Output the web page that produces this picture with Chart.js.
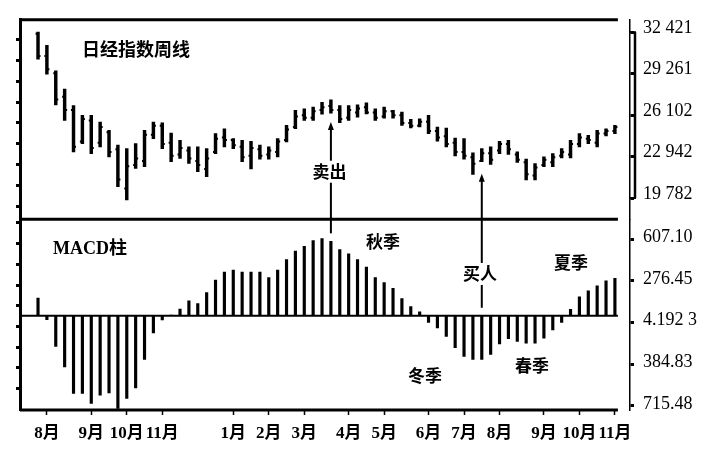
<!DOCTYPE html>
<html lang="zh">
<head>
<meta charset="utf-8">
<title>日经指数周线与MACD柱</title>
<script src="https://cdn.jsdelivr.net/npm/chart.js@4.4.1/dist/chart.umd.min.js"></script>
<style>
  html, body { margin: 0; padding: 0; background: #fff; }
  #wrap { position: relative; width: 723px; height: 454px; }
</style>
</head>
<body>
<div id="wrap"><canvas id="nikkeiChart"></canvas></div>
<script>
// weekly Nikkei bars (66 weeks, Aug -> Nov of the next year)
const weekHigh = [
  32436, 31422, 29485, 28092, 26836, 26079, 26079, 25572, 24944, 23809,
  23552, 23930, 24944, 25572, 25519, 24740, 24187, 23680, 23680, 23552,
  24687, 25065, 24308, 24187, 24112, 23809, 23680, 24308, 25322, 26458,
  26579, 26707, 27086, 27275, 26836, 26836, 26882, 27033, 26579, 26707,
  26458, 26329, 25777, 25822, 26079, 25194, 25118, 24361, 24308, 23226,
  23552, 23680, 24112, 24187, 23302, 22749, 22416, 22923, 23173, 23552,
  24187, 24687, 24566, 24944, 25065, 25322
];
const weekLow = [
  30363, 29228, 26882, 25701, 23302, 23930, 23173, 23680, 22923, 20653,
  19647, 22038, 22167, 24308, 23552, 22545, 22795, 22416, 21788, 21410,
  23173, 23680, 23552, 22545, 21993, 22749, 22749, 22923, 24059, 25065,
  25701, 25701, 26178, 26253, 25519, 25701, 25951, 26200, 25701, 25875,
  25875, 25322, 25118, 25194, 24687, 24112, 23680, 22999, 22749, 21584,
  22545, 22341, 23173, 23098, 22492, 21160, 21160, 22167, 22167, 22848,
  22848, 23680, 23930, 23680, 24513, 24687
];
const weekOpen = [
  32300, 30600, 29300, 27500, 26500, 24100, 25700, 24000, 24800, 23500,
  20500, 22300, 22600, 24600, 25300, 24000, 23100, 23400, 22600, 22000,
  23300, 24400, 24200, 23700, 23000, 23500, 23100, 23300, 24200, 25200,
  26100, 25900, 26500, 26800, 26500, 25900, 26300, 26700, 26300, 26000,
  26400, 26100, 25500, 25300, 25600, 24900, 24500, 24000, 23300, 22900,
  22600, 23200, 23400, 23900, 23100, 22500, 21500, 22300, 22500, 23000,
  23100, 23900, 24300, 24000, 24700, 24900
];
const weekClose = [
  30600, 29600, 27300, 26500, 23700, 25800, 23600, 25200, 23300, 21200,
  22200, 22800, 24600, 25300, 23900, 23000, 23600, 22800, 22300, 22800,
  24300, 24200, 23800, 22900, 23600, 23000, 23400, 24100, 25000, 26000,
  25900, 26400, 26700, 26500, 25800, 26500, 26600, 26300, 25900, 26400,
  26100, 25500, 25300, 25600, 24900, 24400, 23900, 23300, 23000, 22400,
  23200, 22700, 23900, 23500, 22700, 21600, 22100, 22700, 22900, 23300,
  23900, 24400, 24200, 24700, 24900, 25200
];
const macdHist = [
  139, -31, -244, -407, -616, -616, -695, -630, -612, -735,
  -656, -572, -346, -136, -34, 5, 53, 118, 97, 183,
  283, 346, 362, 346, 346, 346, 302, 362, 446, 512,
  551, 596, 612, 590, 525, 490, 446, 386, 302, 262,
  218, 136, 73, 31, -53, -97, -165, -254, -323, -346,
  -346, -307, -223, -183, -205, -218, -218, -179, -113, -53,
  50, 150, 197, 236, 276, 297
];
const monthWeeks = [1, 6, 10, 14, 22, 26, 30, 35, 39, 44, 48, 52, 57, 61, 65];
const monthLabels = ["8月", "9月", "10月", "11月", "1月", "2月", "3月", "4月", "5月", "6月", "7月", "8月", "9月", "10月", "11月"];
const priceTicks = [32421, 29261, 26102, 22942, 19782];
const priceTickLabels = ["32 421", "29 261", "26 102", "22 942", "19 782"];
const macdTicks = [607.10, 276.45, -54.19, -384.83, -715.48];
const macdTickLabels = ["607.10", "276.45", "4.192 3", "384.83", "715.48"];

const notes = [
  { text: "日经指数周线", week: 4.96, axis: "yP", value: 31097, align: "left", font: "bold 18px 'Noto Sans CJK SC'" },
  { text: "MACD柱", week: 1.69, axis: "yM", value: 527, align: "left", font: "bold 18px 'Liberation Serif', 'Noto Sans CJK SC'" },
  { text: "卖出", week: 32.84, axis: "yP", value: 21788 },
  { text: "买人", week: 49.8, axis: "yM", value: 331 },
  { text: "秋季", week: 38.86, axis: "yM", value: 590 },
  { text: "夏季", week: 60.04, axis: "yM", value: 425 },
  { text: "冬季", week: 43.6, axis: "yM", value: -472 },
  { text: "春季", week: 55.65, axis: "yM", value: -394 },
];
const arrows = [
  { week: 33, tipAxis: "yP", tip: 25572, tailAxis: "yM", tail: 653 },
  { week: 50, tipAxis: "yP", tip: 21637, tailAxis: "yM", tail: 63 },
];

const serif = "'Liberation Serif', 'Noto Sans CJK SC', serif";

function withMinors(values) {
  return function (scale) {
    const ticks = [];
    values.forEach((v, i) => {
      ticks.push({ value: v });
      if (i < values.length - 1) ticks.push({ value: (v + values[i + 1]) / 2 });
    });
    scale.ticks = ticks;
  };
}

function rightAxis(stackWeight, min, max, values, labels, offset) {
  return {
    type: "linear",
    position: "right",
    stack: "R",
    stackWeight: stackWeight,
    min: min,
    max: max,
    afterBuildTicks: withMinors(values),
    afterFit: (s) => { s.width = 93; },
    border: { color: "#000", width: 1.5 },
    grid: { drawOnChartArea: false, color: "#000", tickLength: 4, tickWidth: 3 },
    ticks: {
      padding: 9,
      labelOffset: offset,
      color: "#000",
      font: { family: serif, size: 18 },
      callback: (v) => {
        const i = values.indexOf(v);
        return i >= 0 ? labels[i] : "";
      },
    },
  };
}

function leftAxis(stackWeight, min, max, values) {
  return {
    type: "linear",
    position: "left",
    stack: "L",
    stackWeight: stackWeight,
    min: min,
    max: max,
    afterBuildTicks: withMinors(values),
    afterFit: (s) => { s.width = 20; },
    border: { color: "#000", width: 3 },
    grid: { drawOnChartArea: false, color: "#000", tickLength: 4, tickWidth: 3 },
    ticks: { display: false },
  };
}

function line(ctx, x1, y1, x2, y2, w) {
  ctx.lineWidth = w;
  ctx.beginPath();
  ctx.moveTo(x1, y1);
  ctx.lineTo(x2, y2);
  ctx.stroke();
}

const decorPlugin = {
  id: "decor",
  afterDatasetsDraw(chart) {
    const { ctx, chartArea, scales } = chart;
    const x = scales.x;
    const yP = scales.yP;
    const yM = scales.yM;
    const left = chartArea.left;
    const xEnd = x.getPixelForValue(weekHigh.length - 1) + 3;

    ctx.save();
    ctx.strokeStyle = "#000";
    ctx.fillStyle = "#000";

    // panel frame lines and zero line
    line(ctx, left, yP.top, xEnd, yP.top, 3);
    line(ctx, left, yM.top, xEnd, yM.top, 3);
    line(ctx, left, yM.bottom, xEnd, yM.bottom, 3);
    line(ctx, left, yM.getPixelForValue(0), xEnd, yM.getPixelForValue(0), 2);

    // bracket beside the price axis
    const bx = chartArea.right + 5;
    const bTop = yP.getPixelForValue(priceTicks[0]);
    const bBot = yP.getPixelForValue(priceTicks[priceTicks.length - 1]);
    line(ctx, bx, bTop, bx, bBot, 2.5);
    line(ctx, chartArea.right, bTop, bx + 1, bTop, 2);
    line(ctx, chartArea.right, bBot, bx + 1, bBot, 2);

    // arrows
    arrows.forEach((a) => {
      const ax = x.getPixelForValue(a.week);
      const tipY = scales[a.tipAxis].getPixelForValue(a.tip);
      const tailY = scales[a.tailAxis].getPixelForValue(a.tail);
      line(ctx, ax, tipY + 4, ax, tailY, 2);
      ctx.beginPath();
      ctx.moveTo(ax, tipY);
      ctx.lineTo(ax - 3, tipY + 8);
      ctx.lineTo(ax + 3, tipY + 8);
      ctx.closePath();
      ctx.fill();
    });

    // text notes
    ctx.textBaseline = "middle";
    notes.forEach((n) => {
      const tx = x.getPixelForValue(n.week);
      const ty = scales[n.axis].getPixelForValue(n.value);
      ctx.font = n.font || "bold 17px 'Noto Sans CJK SC'";
      ctx.textAlign = n.align || "center";
      const w = ctx.measureText(n.text).width;
      const x0 = ctx.textAlign === "left" ? tx : tx - w / 2;
      ctx.fillStyle = "#fff";
      ctx.fillRect(x0 - 2, ty - 11, w + 4, 22);
      ctx.fillStyle = "#000";
      ctx.fillText(n.text, tx, ty);
    });

    ctx.restore();
  },
};

const priceMin = 18156;
const priceMax = 33367;
const macdMin = -748;
const macdMax = 764;

new Chart(document.getElementById("nikkeiChart"), {
  type: "bar",
  data: {
    datasets: [
      {
        label: "日经指数周线",
        yAxisID: "yP",
        grouped: false,
        data: weekHigh.map((h, i) => ({ x: i, y: [weekLow[i], h] })),
        backgroundColor: "#000",
        barThickness: 2.8,
      },
      {
        type: "line",
        label: "开盘",
        yAxisID: "yP",
        showLine: false,
        data: weekOpen.map((v, i) => ({ x: i, y: v })),
        pointStyle: "dash",
        pointRadius: 2.5,
        pointBorderWidth: 2,
        pointRotation: 180,
        borderColor: "#000",
      },
      {
        type: "line",
        label: "收盘",
        yAxisID: "yP",
        showLine: false,
        data: weekClose.map((v, i) => ({ x: i, y: v })),
        pointStyle: "dash",
        pointRadius: 2.5,
        pointBorderWidth: 2,
        borderColor: "#000",
      },
      {
        label: "MACD柱",
        yAxisID: "yM",
        grouped: false,
        data: macdHist.map((v, i) => ({ x: i, y: v })),
        backgroundColor: "#000",
        barThickness: 2.5,
      },
    ],
  },
  options: {
    responsive: true,
    maintainAspectRatio: false,
    animation: false,
    devicePixelRatio: 1,
    layout: { padding: { top: 17, left: 0, right: 0, bottom: 0 } },
    plugins: {
      legend: { display: false },
      tooltip: { enabled: false },
    },
    scales: {
      x: {
        type: "linear",
        offset: false,
        min: -2.03,
        max: 66.7,
        afterBuildTicks: (s) => { s.ticks = monthWeeks.map((v) => ({ value: v })); },
        afterFit: (s) => { s.height = 44; },
        border: { display: false },
        grid: { offset: false, drawOnChartArea: false, color: "#000", tickLength: 5, tickWidth: 1.5 },
        ticks: {
          autoSkip: false,
          maxRotation: 0,
          padding: 8,
          color: "#000",
          font: { family: serif, size: 17, weight: "bold" },
          callback: (v) => monthLabels[monthWeeks.indexOf(v)],
        },
      },
      yP: rightAxis(201, priceMin, priceMax, priceTicks, priceTickLabels, -4),
      yM: rightAxis(192, macdMin, macdMax, macdTicks, macdTickLabels, -2),
      yPL: leftAxis(201, priceMin, priceMax, priceTicks),
      yML: leftAxis(192, macdMin, macdMax, macdTicks),
    },
  },
  plugins: [decorPlugin],
});
</script>
</body>
</html>
